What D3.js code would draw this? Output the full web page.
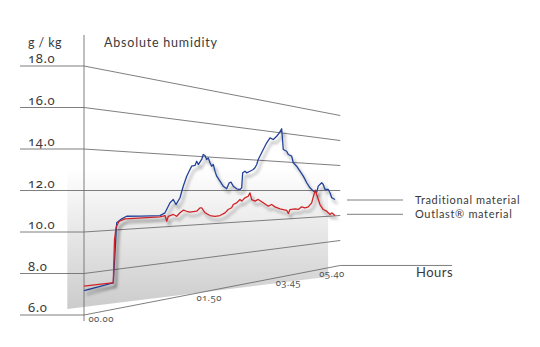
<!DOCTYPE html>
<html><head><meta charset="utf-8">
<script src="https://cdn.jsdelivr.net/npm/d3@7"></script>
<style>
body{margin:0;background:#fff;}
svg{display:block;font-family:Lato,"Open Sans",sans-serif;}
.num{font-family:"Noto Sans",Lato,sans-serif;font-variant-numeric:oldstyle-nums;font-feature-settings:"onum" 1;}
</style></head><body>
<svg id="c" width="540" height="347"></svg>
<script>
const yTicks=[6,8,10,12,14,16,18];
const yTickLabels=["6.0","8.0","10.0","12.0","14.0","16.0","18.0"];
const timeTicks=[0,110,225,340];
const timeLabels=["00.00","01.50","03.45","05.40"];
const seriesNames=["Traditional material","Outlast® material"];
const traditional=[[0,7.18],[24.5,7.34],[27.5,10.36],[32,10.55],[36.5,10.67],[50,10.64],[68.8,10.63],[74,10.77],[79.3,11.32],[82.8,11.50],[85.7,11.21],[90.1,11.59],[93.7,12.24],[97.6,12.82],[101.3,13.21],[103.3,13.41],[107.1,13.46],[109.1,13.71],[111,13.52],[115,13.83],[116.9,14.13],[119,14.08],[121,13.85],[123,13.95],[125.1,13.66],[127.2,13.46],[129.2,13.57],[131.3,13.17],[133.5,12.87],[137.7,12.57],[142,12.26],[146.4,12.11],[149.8,12.48],[152.1,12.52],[155.2,12.27],[159.8,12.11],[164.4,12.06],[166.8,12.17],[168.2,13.13],[171.4,13.24],[173.8,13.14],[178.6,13.25],[183.4,13.37],[185.9,13.49],[188.5,13.71],[190.8,14.05],[198.4,14.74],[203.7,15.21],[208.9,15.57],[214.1,15.48],[219.6,15.73],[223.9,15.99],[227.8,16.29],[230.5,14.86],[236.2,14.76],[239,14.54],[244.8,14.44],[247.6,13.98],[253.6,13.75],[259.5,13.40],[265.6,13.05],[271.9,12.57],[278.1,12.20],[284.4,11.95],[291,11.87],[294.1,12.33],[300.9,12.59],[304.1,12.46],[307.6,12.08],[314.4,12.08],[317.9,11.82],[321.5,11.43],[328.5,11.29]];
const outlast=[[0,7.39],[23.1,7.35],[24.5,7.34],[25.6,9.52],[26.9,10.12],[29.6,10.42],[35,10.54],[68.8,10.56],[74,10.62],[75.8,10.30],[77.5,10.57],[82.8,10.66],[86.5,10.55],[90.1,10.74],[93.7,10.88],[97.6,10.81],[101.3,10.75],[109.1,10.79],[113,10.98],[115,10.98],[119,10.68],[125.1,10.50],[131.3,10.44],[137.7,10.47],[144.2,10.62],[148.4,10.82],[153,10.92],[155.2,11.12],[159.8,11.22],[164.4,11.43],[166.8,11.32],[171.4,11.53],[176.1,11.63],[178.6,11.85],[181.1,11.41],[185.9,11.30],[190.8,11.41],[198.4,11.18],[206.2,10.94],[211.5,11.05],[216.8,10.88],[225,10.73],[236.2,10.61],[239,10.38],[241.9,10.65],[250.6,10.69],[256.5,10.63],[262.6,10.81],[268.7,10.73],[274.9,10.79],[281.3,11.08],[285.7,11.70],[288.3,12.02],[291,11.70],[297.5,10.93],[304.1,10.54],[311,10.40],[317.9,10.13],[321.5,10.25],[328.5,10.02]];

const svg=d3.select("#c");
const y=d3.scaleLinear().domain([6,18]).range([315,66]);
const depth=d3.scaleLinear().domain([0,340]).range([0,1]);
const x0=84, vpX=728, horizon=y(12), K=0.661;
function proj(t,v){const s=1/(1+K*depth(t));return [vpX-(vpX-x0)*s, horizon+(y(v)-horizon)*s];}

const defs=svg.append("defs");
const g=defs.append("linearGradient").attr("id","wall").attr("gradientUnits","userSpaceOnUse")
  .attr("x1",0).attr("y1",168).attr("x2",0).attr("y2",310);
g.append("stop").attr("offset",0).attr("stop-color","#ffffff");
g.append("stop").attr("offset",1).attr("stop-color","#cbcbcb");
const f=defs.append("filter").attr("id","sh").attr("x","-10%").attr("y","-10%").attr("width","130%").attr("height","140%");
f.append("feDropShadow").attr("dx",2.5).attr("dy",4).attr("stdDeviation",1.8).attr("flood-color","#000").attr("flood-opacity",0.4);

// backdrop wall
const xl=proj(-13,6)[0], xr=proj(314,6)[0];
const wallPts=[[xl,168],[xr,168],[xr,proj(314,5.3)[1]],[xl,proj(-13,6.43)[1]]];
svg.append("path").attr("d",d3.line()(wallPts)).attr("fill","url(#wall)");

const gridC="#707070";
svg.selectAll(".tk").data(yTicks).join("line")
  .attr("x1",20).attr("x2",x0).attr("y1",d=>y(d)).attr("y2",d=>y(d))
  .attr("stroke",gridC).attr("stroke-width",0.9);
svg.selectAll(".gl").data(yTicks).join("line")
  .attr("x1",d=>proj(0,d)[0]).attr("y1",d=>proj(0,d)[1])
  .attr("x2",d=>proj(340,d)[0]).attr("y2",d=>proj(340,d)[1])
  .attr("stroke",gridC).attr("stroke-width",0.9);
const endP=proj(340,6);
svg.append("line").attr("x1",endP[0]).attr("y1",endP[1]).attr("x2",452).attr("y2",endP[1])
  .attr("stroke",gridC).attr("stroke-width",0.9);
svg.append("line").attr("x1",x0).attr("x2",x0).attr("y1",35).attr("y2",321)
  .attr("stroke",gridC).attr("stroke-width",0.9);

svg.selectAll(".yl").data(yTicks).join("text").attr("class","num")
  .attr("x",28).attr("y",d=>y(d)-3).attr("font-size",13).attr("fill","#3a3a3a")
  .attr("letter-spacing",0.6).text((d,i)=>yTickLabels[i]);
svg.append("text").attr("x",28).attr("y",47).attr("font-size",12.5).attr("fill","#3a3a3a").attr("letter-spacing",0.4).text("g / kg");
svg.append("text").attr("x",104).attr("y",47).attr("font-size",12.5).attr("fill","#3a3a3a").attr("letter-spacing",0.8).text("Absolute humidity");

svg.selectAll(".xl").data(timeTicks).join("text").attr("class","num")
  .attr("x",d=>proj(Math.min(d+14,322),6)[0]).attr("y",d=>proj(Math.min(d+14,322),6)[1]+10)
  .attr("text-anchor","middle").attr("font-size",9.5).attr("fill","#555").attr("letter-spacing",0.4)
  .text((d,i)=>timeLabels[i]);
svg.append("text").attr("x",416).attr("y",277).attr("font-size",13).attr("fill","#3a3a3a").attr("letter-spacing",0.5).text("Hours");

const legY=[200,214.3];
svg.selectAll(".lg").data(seriesNames).join("line")
  .attr("x1",347).attr("x2",403).attr("y1",(d,i)=>legY[i]).attr("y2",(d,i)=>legY[i])
  .attr("stroke",gridC).attr("stroke-width",0.9);
svg.selectAll(".lt").data(seriesNames).join("text")
  .attr("x",415).attr("y",(d,i)=>legY[i]+3.5).attr("font-size",11).attr("fill","#3a3a3a").attr("letter-spacing",0.65)
  .text(d=>d);

const line=d3.line().x(d=>proj(d[0],d[1])[0]).y(d=>proj(d[0],d[1])[1]);
svg.append("path").datum(traditional).attr("d",line).attr("fill","none")
  .attr("stroke","#24439a").attr("stroke-width",1.3).attr("stroke-linejoin","round").attr("filter","url(#sh)");
svg.append("path").datum(outlast).attr("d",line).attr("fill","none")
  .attr("stroke","#cf2327").attr("stroke-width",1.3).attr("stroke-linejoin","round").attr("filter","url(#sh)");
</script></body></html>
